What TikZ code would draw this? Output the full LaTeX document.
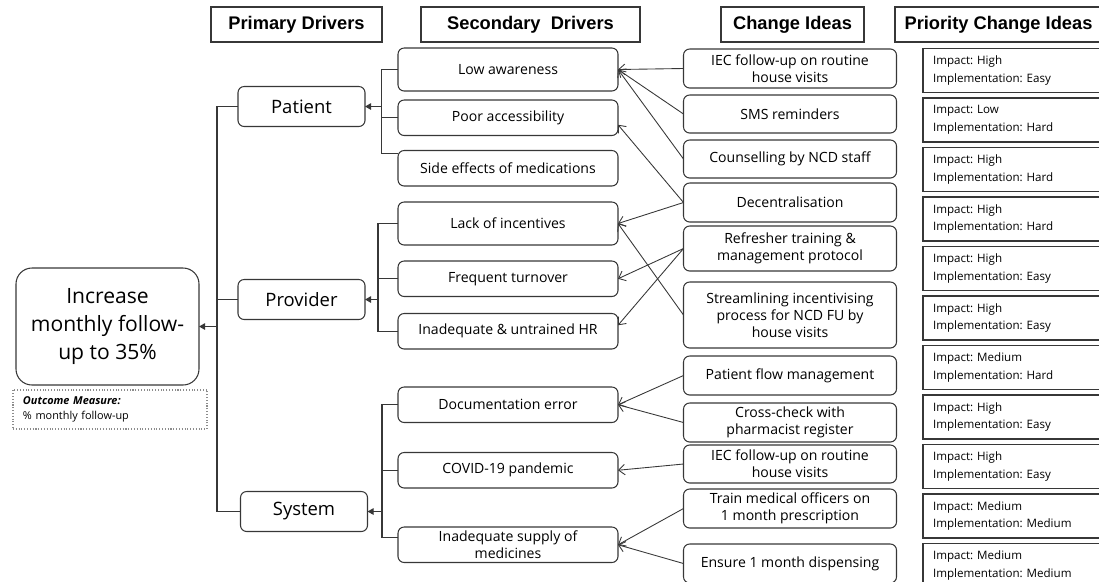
\documentclass[tikz,border=0pt]{standalone}
\usepackage{fontspec}
\setmainfont{Open Sans}
\newfontfamily\hdfont{Liberation Sans}
\usepackage{xcolor}
\definecolor{LineGray}{RGB}{55,55,55}
\definecolor{DotGray}{RGB}{140,140,140}
\usetikzlibrary{positioning, calc, arrows.meta}
\frenchspacing
\tikzset{
  % Column headers
  hdr/.style={
    rectangle, draw=LineGray, line width=0.6pt, outer sep=0pt,
    minimum height=0.70cm, inner sep=0pt,
    font=\hdfont\bfseries\fontsize{10.4}{12}\selectfont
  },
  % Generic rounded box
  rbox/.style={
    rectangle, rounded corners=3.5pt,
    draw=LineGray, line width=0.6pt, outer sep=0pt,
    align=center, inner xsep=2pt, inner ysep=1pt,
    font=\fontsize{8}{9.6}\selectfont
  },
  % Box variants
  pbox/.style={rbox, minimum width=2.54cm, minimum height=0.80cm,
    font=\fontsize{10.5}{12}\selectfont},
  sbox/.style={rbox, minimum width=4.40cm, minimum height=0.71cm},
  cbox/.style={rbox, minimum width=4.26cm, minimum height=0.78cm},
  % Aim box
  goalbox/.style={
    rectangle, rounded corners=0.32cm,
    draw=LineGray, line width=0.6pt, outer sep=0pt,
    minimum width=3.66cm, minimum height=2.34cm,
    align=center, font=\fontsize{12}{16}\selectfont
  },
  % Outcome measure box
  outbox/.style={
    rectangle, draw=DotGray, densely dotted, line width=0.6pt, outer sep=0pt,
    minimum width=3.88cm, text width=3.48cm, minimum height=0.78cm,
    align=left, inner xsep=0.2cm, inner ysep=1pt,
    font=\fontsize{6.2}{8.5}\selectfont
  },
  % Priority box
  prio/.style={
    rectangle, draw=LineGray, line width=0.6pt, outer sep=0pt,
    text width=3.9cm, minimum height=0.88cm,
    align=left, inner xsep=0.2cm, inner ysep=1pt,
    font=\fontsize{6.6}{10}\selectfont
  },
  % Connectors
  link/.style={line width=0.6pt, LineGray},
  arr/.style={-{Straight Barb[length=3.5pt,width=6pt]}, line width=0.5pt, LineGray},
  barr/.style={-{Triangle[length=3.5pt,width=3.8pt]}, line width=0.6pt, LineGray},
}

\begin{document}
\begin{tikzpicture}
  \useasboundingbox (0,0) rectangle (21.98,-11.62);
  \clip (0,0) rectangle (21.98,-11.62);

  %% Column headers
  \node[hdr, minimum width=3.42cm] (hPri) at (5.93,-0.49) {Primary Drivers};
  \node[hdr, minimum width=4.38cm, right=0.78cm of hPri] (hSec) {Secondary\ \ Drivers};
  \node[hdr, minimum width=2.86cm, right=1.62cm of hSec] (hChg) {Change Ideas};
  \node[hdr, minimum width=4.14cm, right=0.62cm of hChg] (hPrio) {Priority Change Ideas};

  %% Aim and outcome measure
  \node[goalbox] (goal) at (2.15,-6.53) {Increase\\monthly follow-\\up to 35\%};
  \node[outbox, below=0.1cm of goal, xshift=0.05cm] (outm)
    {\textbf{\textit{Outcome Measure:}}\\\% monthly follow-up};

  %% Primary drivers
  \node[pbox] (pat) at (6.03,-2.13) {Patient};
  \node[pbox, below=3.06cm of pat] (prov) {Provider};
  \node[pbox, below=3.44cm of prov, xshift=0.05cm] (sys) {System};

  %% Secondary drivers
  \node[sbox, minimum height=0.86cm] (low) at (10.16,-1.39) {Low awareness};
  \node[sbox, below=0.18cm of low] (poor) {Poor accessibility};
  \node[sbox, below=0.30cm of poor] (side) {Side effects of medications};
  \node[sbox, minimum height=0.86cm, below=0.32cm of side] (lack) {Lack of incentives};
  \node[sbox, below=0.32cm of lack] (turn) {Frequent turnover};
  \node[sbox, below=0.34cm of turn] (hr) {Inadequate \& untrained HR};
  \node[sbox, below=0.76cm of hr] (doc) {Documentation error};
  \node[sbox, below=0.60cm of doc] (covid) {COVID-19 pandemic};
  \node[sbox, below=0.78cm of covid] (supply) {Inadequate supply of\\medicines};

  %% Change ideas
  \node[cbox] (iec) at (15.80,-1.37) {IEC follow-up on routine\\house visits};
  \node[cbox, minimum height=0.76cm, below=0.14cm of iec] (sms) {SMS reminders};
  \node[cbox, minimum height=0.76cm, below=0.14cm of sms] (couns) {Counselling by NCD staff};
  \node[cbox, below=0.10cm of couns] (decent) {Decentralisation};
  \node[cbox, minimum height=0.90cm, below=0.08cm of decent] (refr) {Refresher training \&\\management protocol};
  \node[cbox, minimum height=1.32cm, below=0.22cm of refr] (stream)
    {Streamlining incentivising\\process for NCD FU by\\house visits};
  \node[cbox, below=0.16cm of stream] (flow) {Patient flow management};
  \node[cbox, below=0.16cm of flow] (cross) {Cross-check with\\pharmacist register};
  \node[cbox, minimum height=0.76cm, below=0.06cm of cross] (iecb) {IEC follow-up on routine\\house visits};
  \node[cbox, below=0.12cm of iecb] (train) {Train medical officers on\\1 month prescription};
  \node[cbox, below=0.32cm of train] (ensure) {Ensure 1 month dispensing};

  %% Priority change ideas
  \node[prio, anchor=west] (pr1) at (18.46,-1.41) {Impact: High\\Implementation: Easy};
  \node[prio, below=0.11cm of pr1] (pr2) {Impact: Low\\Implementation: Hard};
  \node[prio, below=0.11cm of pr2] (pr3) {Impact: High\\Implementation: Hard};
  \node[prio, below=0.11cm of pr3] (pr4) {Impact: High\\Implementation: Hard};
  \node[prio, below=0.11cm of pr4] (pr5) {Impact: High\\Implementation: Easy};
  \node[prio, below=0.11cm of pr5] (pr6) {Impact: High\\Implementation: Easy};
  \node[prio, below=0.11cm of pr6] (pr7) {Impact: Medium\\Implementation: Hard};
  \node[prio, below=0.11cm of pr7] (pr8) {Impact: High\\Implementation: Easy};
  \node[prio, below=0.11cm of pr8] (pr9) {Impact: High\\Implementation: Easy};
  \node[prio, below=0.11cm of pr9] (pr10) {Impact: Medium\\Implementation: Medium};
  \node[prio, below=0.11cm of pr10] (pr11) {Impact: Medium\\Implementation: Medium};

  %% Primary drivers into aim
  \coordinate (tk) at ($(goal.east)+(0.36,0)$);
  \draw[link] (pat.west) -| (tk);
  \draw[link] (prov.west) -| (tk);
  \draw[link] (sys.west) -| (tk);
  \draw[barr] (tk) -- (goal.east);

  %% Secondary drivers into primary drivers
  \coordinate (bPat) at ($(pat.east)+(0.33,0)$);
  \draw[link] (low.west) -| (bPat);
  \draw[link] (poor.west) -| (bPat);
  \draw[link] ($(side.west)+(0,0.30)$) -| (bPat);
  \draw[barr] (bPat) -- (pat.east);

  \coordinate (bProv) at ($(prov.east)+(0.26,0)$);
  \draw[link] (lack.west) -| (bProv);
  \draw[link] (turn.west) -| (bProv);
  \draw[link] (hr.west) -| (bProv);
  \draw[barr] (bProv) -- (prov.east);

  \coordinate (bSys) at ($(sys.east)+(0.29,0)$);
  \draw[link] (doc.west) -| (bSys);
  \draw[link] (covid.west) -| (bSys);
  \draw[link] ($(supply.west)+(0,0.15)$) -| (bSys);
  \draw[barr] (bSys) -- (sys.east);

  %% Change ideas into secondary drivers
  \draw[arr] (iec.west) -- (low.east);
  \draw[arr] (sms.west) -- (low.east);
  \draw[arr] (couns.west) -- (low.east);
  \draw[arr] (decent.west) -- ($(poor.east)+(0,-0.14)$);
  \draw[arr] (decent.west) -- (lack.east);
  \draw[arr] (refr.west) -- (turn.east);
  \draw[arr] (refr.west) -- ($(hr.east)+(0,0.12)$);
  \draw[arr] (stream.west) -- (lack.east);
  \draw[arr] (flow.west) -- (doc.east);
  \draw[arr] (cross.west) -- (doc.east);
  \draw[arr] (iecb.west) -- (covid.east);
  \draw[arr] (train.west) -- (supply.east);
  \draw[arr] (ensure.west) -- (supply.east);

\end{tikzpicture}
\end{document}
